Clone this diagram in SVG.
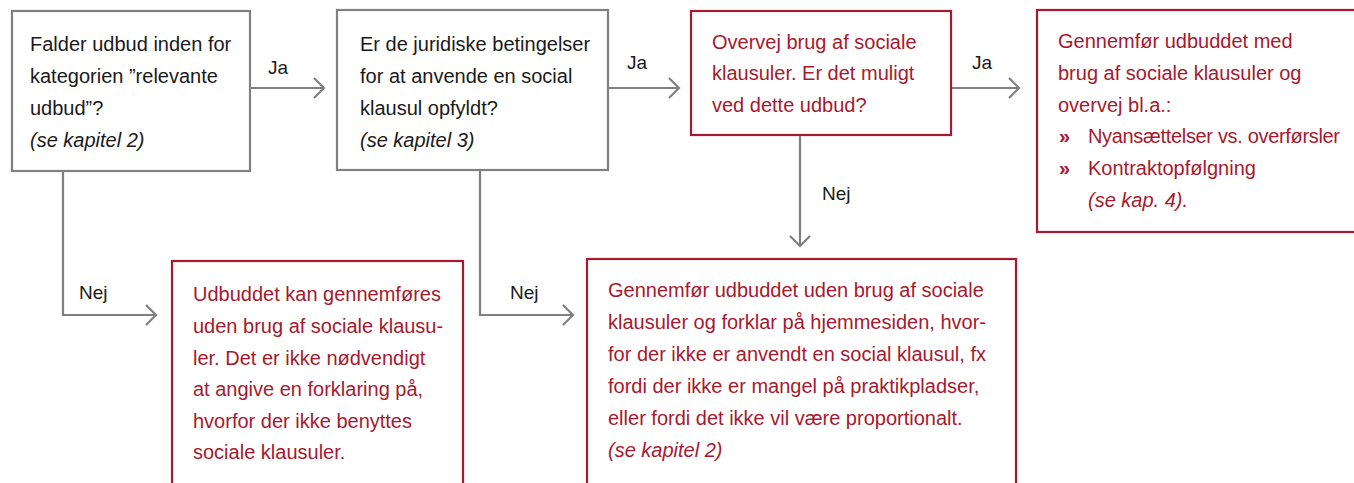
<svg xmlns="http://www.w3.org/2000/svg" width="1354" height="483" viewBox="0 0 1354 483">
<style>
.box{fill:#fff;stroke-width:2.2}
.g{stroke:#808080}
.r{stroke:#a6192e}
text{font-family:"Liberation Sans","Noto Sans",sans-serif;font-size:20px}
.tb{fill:#1a1a1a}
.tr{fill:#a6192e}
.it{font-style:italic}
.bul{font-weight:bold}
.c{fill:none;stroke:#808080;stroke-width:2.2}
.lbl{fill:#1a1a1a;font-size:19px}
</style>
<defs>
<marker id="ah" markerWidth="14" markerHeight="22" refX="11" refY="11" orient="auto" markerUnits="userSpaceOnUse">
<path d="M1,1 L11,11 L1,21" fill="none" stroke="#808080" stroke-width="2.2"/>
</marker>
</defs>
<rect width="1354" height="483" fill="#fff"/>
<g id="connectors">
<path class="c" d="M250,88 H324" marker-end="url(#ah)"/>
<path class="c" d="M608,88 H679" marker-end="url(#ah)"/>
<path class="c" d="M951,88 H1019" marker-end="url(#ah)"/>
<path class="c" d="M800,135 V246" marker-end="url(#ah)"/>
<path class="c" d="M63,171 V315 H156" marker-end="url(#ah)"/>
<path class="c" d="M480,170 V315 H573" marker-end="url(#ah)"/>
<text class="lbl" x="268" y="74">Ja</text>
<text class="lbl" x="627" y="69">Ja</text>
<text class="lbl" x="972" y="69">Ja</text>
<text class="lbl" x="822" y="200">Nej</text>
<text class="lbl" x="79" y="299">Nej</text>
<text class="lbl" x="510" y="299">Nej</text>
</g>
<g id="n1">
<rect class="box g" x="12" y="11" width="238" height="160"/>
<text class="tb" x="30" y="51">Falder udbud inden for</text>
<text class="tb" x="30" y="83">kategorien ”relevante</text>
<text class="tb" x="30" y="115">udbud”?</text>
<text class="tb it" x="30" y="147">(se kapitel 2)</text>
</g>
<g id="n2">
<rect class="box g" x="337" y="10" width="271" height="160"/>
<text class="tb" x="360" y="51">Er de juridiske betingelser</text>
<text class="tb" x="360" y="83">for at anvende en social</text>
<text class="tb" x="360" y="115">klausul opfyldt?</text>
<text class="tb it" x="360" y="147">(se kapitel 3)</text>
</g>
<g id="n3">
<rect class="box r" x="691" y="11" width="260" height="124"/>
<text class="tr" x="712" y="49">Overvej brug af sociale</text>
<text class="tr" x="712" y="80">klausuler. Er det muligt</text>
<text class="tr" x="712" y="112">ved dette udbud?</text>
</g>
<g id="n4">
<rect class="box r" x="1037" y="10" width="330" height="222"/>
<text class="tr" x="1058" y="48">Gennemfør udbuddet med</text>
<text class="tr" x="1058" y="80">brug af sociale klausuler og</text>
<text class="tr" x="1058" y="112">overvej bl.a.:</text>
<text class="tr bul" x="1059" y="143">»</text>
<text class="tr" x="1088" y="143" textLength="252">Nyansættelser vs. overførsler</text>
<text class="tr bul" x="1059" y="175">»</text>
<text class="tr" x="1088" y="175">Kontraktopfølgning</text>
<text class="tr it" x="1088" y="207">(se kap. 4).</text>
</g>
<g id="n5">
<rect class="box r" x="172" y="261" width="291" height="240"/>
<text class="tr" x="193" y="301">Udbuddet kan gennemføres</text>
<text class="tr" x="193" y="333">uden brug af sociale klausu-</text>
<text class="tr" x="193" y="365">ler. Det er ikke nødvendigt</text>
<text class="tr" x="193" y="396">at angive en forklaring på,</text>
<text class="tr" x="193" y="428">hvorfor der ikke benyttes</text>
<text class="tr" x="193" y="459">sociale klausuler.</text>
</g>
<g id="n6">
<rect class="box r" x="587" y="259" width="429" height="240"/>
<text class="tr" x="608" y="297">Gennemfør udbuddet uden brug af sociale</text>
<text class="tr" x="608" y="329">klausuler og forklar på hjemmesiden, hvor-</text>
<text class="tr" x="608" y="361">for der ikke er anvendt en social klausul, fx</text>
<text class="tr" x="608" y="393">fordi der ikke er mangel på praktikpladser,</text>
<text class="tr" x="608" y="425">eller fordi det ikke vil være proportionalt.</text>
<text class="tr it" x="608" y="457">(se kapitel 2)</text>
</g>
</svg>
